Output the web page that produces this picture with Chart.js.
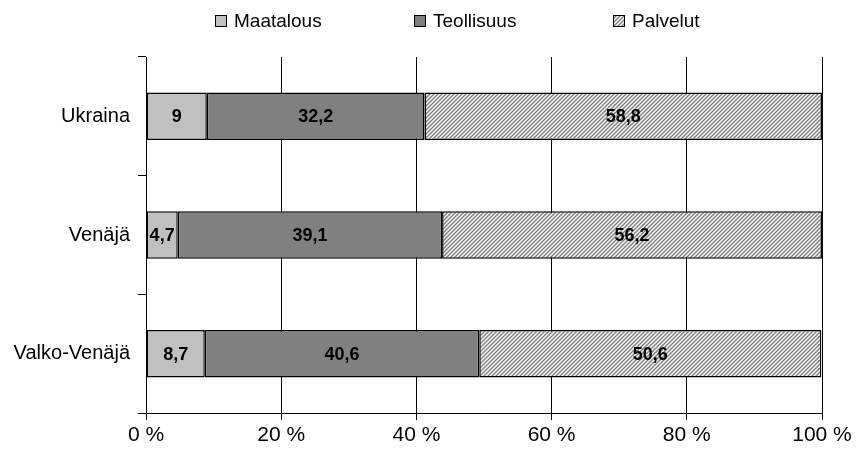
<!DOCTYPE html>
<html>
<head>
<meta charset="utf-8">
<script src="https://cdn.jsdelivr.net/npm/chart.js@4/dist/chart.umd.min.js"></script>
<style>
  html, body { margin: 0; padding: 0; background: #fff; }
  #wrap { width: 856px; height: 455px; }
</style>
</head>
<body>
<div id="wrap"><canvas id="myChart" width="856" height="455"></canvas></div>
<script>
const countries = ['Ukraina', 'Venäjä', 'Valko-Venäjä'];
const maatalous = [9, 4.7, 8.7];
const teollisuus = [32.2, 39.1, 40.6];
const palvelut = [58.8, 56.2, 50.6];
const xTicks = [0, 20, 40, 60, 80, 100];

const FONT = '"Liberation Sans", Arial, sans-serif';

// diagonal hatch for Palvelut
function hatch() {
  const c = document.createElement('canvas');
  c.width = 4; c.height = 4;
  const g = c.getContext('2d');
  g.fillStyle = '#fff';
  g.fillRect(0, 0, 4, 4);
  g.strokeStyle = '#808080';
  g.lineWidth = 1.5;
  g.beginPath();
  g.moveTo(0, 4); g.lineTo(4, 0);
  g.moveTo(-1, 1); g.lineTo(1, -1);
  g.moveTo(3, 5); g.lineTo(5, 3);
  g.stroke();
  return g.createPattern(c, 'repeat');
}

const fmt = v => String(v).replace('.', ',');

// value labels in the middle of each segment
const barLabels = {
  id: 'barLabels',
  afterDatasetsDraw(chart) {
    const ctx = chart.ctx;
    ctx.save();
    ctx.font = 'bold 18px ' + FONT;
    ctx.fillStyle = '#000';
    ctx.textAlign = 'center';
    ctx.textBaseline = 'middle';
    chart.data.datasets.forEach((ds, i) => {
      chart.getDatasetMeta(i).data.forEach((bar, j) => {
        ctx.fillText(fmt(ds.data[j]), (bar.x + bar.base) / 2, bar.y + 1);
      });
    });
    ctx.restore();
  }
};

// legend with equal-width slots, like the original
const slotLegend = {
  id: 'slotLegend',
  afterDraw(chart) {
    const ctx = chart.ctx;
    const startX = 215, step = 199, boxY = 15, box = 12;
    ctx.save();
    ctx.font = '19px ' + FONT;
    ctx.textBaseline = 'middle';
    chart.data.datasets.forEach((ds, i) => {
      const x = startX + i * step;
      ctx.fillStyle = ds.backgroundColor;
      ctx.fillRect(x, boxY, box, box);
      ctx.strokeStyle = '#000';
      ctx.lineWidth = 1;
      ctx.strokeRect(x + 0.5, boxY + 0.5, box - 1, box - 1);
      ctx.fillStyle = '#000';
      ctx.fillText(ds.label, x + box + 7, boxY + box / 2 + 1);
    });
    ctx.restore();
  }
};

const ctx = document.getElementById('myChart').getContext('2d');
const common = { borderColor: '#000', borderWidth: 1.5, borderSkipped: false, barPercentage: 1, categoryPercentage: 0.4 };

new Chart(ctx, {
  type: 'bar',
  data: {
    labels: countries,
    datasets: [
      Object.assign({ label: 'Maatalous', data: maatalous, backgroundColor: '#c0c0c0' }, common),
      Object.assign({ label: 'Teollisuus', data: teollisuus, backgroundColor: '#808080' }, common),
      Object.assign({ label: 'Palvelut', data: palvelut, backgroundColor: hatch() }, common)
    ]
  },
  options: {
    indexAxis: 'y',
    responsive: false,
    animation: false,
    layout: { padding: { left: 0, right: 34, top: 57, bottom: 0 } },
    plugins: {
      legend: { display: false },
      tooltip: { enabled: false }
    },
    scales: {
      x: {
        stacked: true,
        min: 0,
        max: 100,
        afterBuildTicks(s) { s.ticks = xTicks.map(v => ({ value: v })); },
        afterFit(s) { s.height = 42; },
        ticks: {
          color: '#000',
          padding: 3,
          maxRotation: 0,
          font: { size: 21, family: FONT },
          callback: v => v + ' %'
        },
        grid: { color: '#000', lineWidth: 1, tickLength: 7 },
        border: { color: '#000', width: 1 }
      },
      y: {
        stacked: true,
        afterFit(s) { s.width = 146; },
        ticks: {
          color: '#000',
          padding: 8,
          font: { size: 20, family: FONT }
        },
        grid: { offset: true, drawOnChartArea: false, color: '#000', tickLength: 8 },
        border: { color: '#000', width: 1 }
      }
    }
  },
  plugins: [barLabels, slotLegend]
});
</script>
</body>
</html>
